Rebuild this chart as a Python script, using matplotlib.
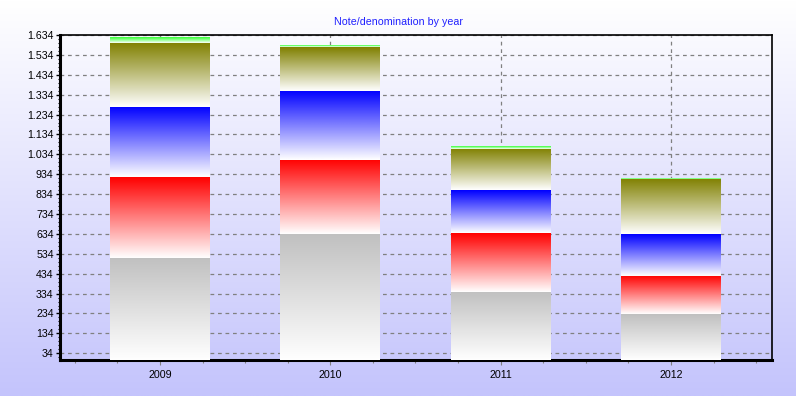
import numpy as np
import matplotlib
matplotlib.use("Agg")
import matplotlib.pyplot as plt
from matplotlib.colors import LinearSegmentedColormap, to_rgb
from matplotlib.ticker import FixedLocator, FuncFormatter

plt.rcParams['font.family'] = ['Liberation Sans', 'DejaVu Sans']

years = ["2009", "2010", "2011", "2012"]
gray = [515, 631, 344, 231]
red = [406, 375, 295, 192]
blue = [352, 348, 216, 211]
olive = [322, 221, 208, 277]
green = [30, 10, 15, 4]

series = [gray, red, blue, olive, green]
colors = ["#C0C0C0", "#FF0000", "#0000FF", "#808000", "#33FF33"]

y_ticks = list(range(34, 1635, 100))
y_max = 1634

W, H = 796, 396
fig = plt.figure(figsize=(W / 100, H / 100), dpi=100)

# background gradient
bg = fig.add_axes([0, 0, 1, 1], zorder=-10)
top = np.array([1.0, 1.0, 1.0])
bot = np.array([196, 196, 252]) / 255
t = np.linspace(0, 1, 256)[:, None]
grad = top[None, :] * (1 - t) + bot[None, :] * t
bg.imshow(grad[:, None, :].repeat(2, axis=1), aspect='auto', extent=[0, 1, 0, 1])
bg.set_axis_off()

left, right, ytop, ybot = 60, 772, 35, 360
ax = fig.add_axes([left / W, 1 - ybot / H, (right - left) / W, (ybot - ytop) / H])
ax.set_facecolor('none')

x = np.arange(len(years))
bw = 0.587
bottoms = np.zeros(len(years))
gvals = np.linspace(0, 1, 256)[:, None]
for vals, col in zip(series, colors):
    cmap = LinearSegmentedColormap.from_list("g", ["#FFFFFF", col])
    for i, v in enumerate(vals):
        if v <= 0:
            continue
        ax.imshow(gvals, cmap=cmap, aspect='auto', origin='lower',
                  extent=[x[i] - bw / 2, x[i] + bw / 2, bottoms[i], bottoms[i] + v],
                  zorder=3, interpolation='bilinear', vmin=0, vmax=1)
    bottoms += np.array(vals)

ax.set_xlim(-0.587, 3.593)
ax.set_ylim(0, y_max)

ax.set_yticks(y_ticks)
ax.yaxis.set_major_formatter(FuncFormatter(lambda v, p: f"{int(round(v)):,}".replace(",", ".")))
ax.yaxis.set_minor_locator(FixedLocator(np.arange(14, 1634, 20)))
ax.set_xticks(x)
ax.set_xticklabels(years)
ax.xaxis.set_minor_locator(FixedLocator(np.arange(-0.5, 3.6, 0.25)))

ax.tick_params(axis='y', which='major', direction='out', length=3, width=1, colors='black',
               labelsize=7.7, pad=1.5)
ax.tick_params(axis='y', which='minor', direction='out', length=1.5, width=0.8, colors='black')
ax.tick_params(axis='x', which='major', direction='out', length=3.5, width=0.8, color='#808080',
               labelcolor='black', labelsize=7.7, pad=4)
ax.tick_params(axis='x', which='minor', direction='out', length=2, width=0.8, color='#808080')

ax.grid(True, which='major', axis='both', color='#808080', linestyle=(0, (3, 3)), linewidth=0.9, zorder=1)
ax.set_axisbelow(True)

for s in ['left', 'bottom']:
    ax.spines[s].set_linewidth(2.2)
for s in ['top', 'right']:
    ax.spines[s].set_linewidth(1.2)

fig.text(398 / W, 1 - 22 / H, "Note/denomination by year", color='#2020FF', fontsize=7.7,
         ha='center', va='center')

fig.savefig("out.png", dpi=100)
